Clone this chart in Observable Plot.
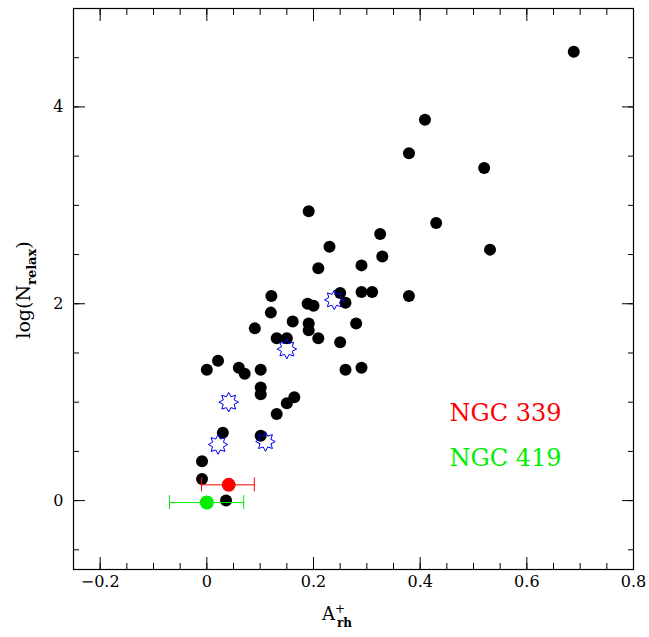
<!DOCTYPE html>
<html><head><meta charset="utf-8">
<script src="https://cdn.jsdelivr.net/npm/d3@7"></script>
<script src="https://cdn.jsdelivr.net/npm/@observablehq/plot@0.6"></script>
<style>body{margin:0;background:#fff}</style>
</head><body>
<div id="chart"></div>
<script>
// black clusters: A+rh and log(Nrelax)
const clusterA = [0.688,0.409,0.379,0.520,0.191,0.430,0.531,0.325,0.230,0.329,0.209,0.290,0.290,0.310,0.379,0.121,0.250,0.260,0.189,0.200,0.120,0.161,0.191,0.280,0.191,0.090,0.209,0.131,0.150,0.250,0.260,0.290,0.021,0.0,0.060,0.071,0.101,0.101,0.101,0.164,0.150,0.131,0.030,0.101,-0.009,-0.009,0.036];
const clusterN = [4.56,3.87,3.53,3.38,2.94,2.82,2.55,2.71,2.58,2.48,2.36,2.39,2.12,2.12,2.08,2.08,2.11,2.01,2.00,1.98,1.91,1.82,1.80,1.80,1.73,1.75,1.65,1.65,1.65,1.61,1.33,1.35,1.42,1.33,1.35,1.29,1.33,1.15,1.08,1.05,0.99,0.88,0.69,0.66,0.40,0.22,0.0];
// blue star markers
const starA = [0.239,0.150,0.041,0.021,0.110];
const starN = [2.04,1.54,1.00,0.57,0.60];
// the two named clusters
const ngcNames = ["NGC 339","NGC 419"];
const ngcColors = ["#ff0000","#00ee00"];
const ngcA = [0.041,0.0];
const ngcN = [0.16,-0.02];
const ngcLo = [-0.009,-0.069];
const ngcHi = [0.09,0.07];
const labelA = [0.455,0.455];
const labelN = [0.89,0.43];

const clusters = clusterA.map((a,i)=>({a, n: clusterN[i]}));
const stars = starA.map((a,i)=>({a, n: starN[i]}));
const ngc = ngcNames.map((name,i)=>({name, color: ngcColors[i], a: ngcA[i], n: ngcN[i], lo: ngcLo[i], hi: ngcHi[i], la: labelA[i], ln: labelN[i]}));

// 8-pointed open star
const star8 = {draw(ctx, size) {
  const R = Math.sqrt(size) * 0.85, r = R * 0.6;
  for (let k = 0; k < 16; k++) {
    const ang = k * Math.PI / 8 - Math.PI / 2, rad = k % 2 ? r : R;
    const x = rad * Math.cos(ang), y = rad * Math.sin(ang);
    k ? ctx.lineTo(x, y) : ctx.moveTo(x, y);
  }
  ctx.closePath();
}};

const xMajor = d3.range(-0.2, 0.81, 0.2).map(v => +v.toFixed(2));
const xMinor = d3.range(-0.25, 0.801, 0.05).map(v => +v.toFixed(2));
const yMajor = [0, 2, 4];
const yMinor = d3.range(-0.5, 5.01, 0.5);
const fmt = d => String(d).replace("-", "\u2212");

const svg = Plot.plot({
  width: 649, height: 637,
  marginLeft: 73, marginRight: 16, marginTop: 8, marginBottom: 68,
  style: {fontFamily: "DejaVu Serif", fontSize: "16px", color: "#000"},
  x: {domain: [-0.25, 0.8]},
  y: {domain: [-0.7, 5]},
  marks: [
    Plot.frame({stroke: "#000", strokeWidth: 1.2}),
    Plot.axisX({ticks: xMajor, tickSize: -12, tickPadding: 18, tickFormat: fmt, label: null, fontSize: 16}),
    Plot.axisX({ticks: xMinor, tickSize: -6, tickFormat: () => "", label: null}),
    Plot.axisX({anchor: "top", ticks: xMajor, tickSize: -12, tickFormat: () => "", label: null}),
    Plot.axisX({anchor: "top", ticks: xMinor, tickSize: -6, tickFormat: () => "", label: null}),
    Plot.axisY({ticks: yMajor, tickSize: -12, tickPadding: 22, tickFormat: fmt, label: null, fontSize: 16}),
    Plot.axisY({ticks: yMinor, tickSize: -6, tickFormat: () => "", label: null}),
    Plot.axisY({anchor: "right", ticks: yMajor, tickSize: -12, tickFormat: () => "", label: null}),
    Plot.axisY({anchor: "right", ticks: yMinor, tickSize: -6, tickFormat: () => "", label: null}),
    Plot.dot(clusters, {x: "a", y: "n", r: 6, fill: "#000"}),
    Plot.dot(stars, {x: "a", y: "n", symbol: star8, r: 6.5, stroke: "#0000ee", strokeWidth: 1, fill: "none"}),
    Plot.link(ngc, {x1: "lo", x2: "hi", y1: "n", y2: "n", stroke: "color"}),
    Plot.dot(ngc, {x: "a", y: "n", r: 7, fill: "color"}),
    Plot.text(ngc, {x: "la", y: "ln", text: "name", fill: "color", fontSize: 24, textAnchor: "start"})
  ]
});
// short error bar caps
const sx = svg.scale("x"), sy = svg.scale("y");
const g = d3.select(svg);
ngc.forEach(d => {
  [d.lo, d.hi].forEach(v => g.append("line").attr("x1", sx.apply(v)).attr("x2", sx.apply(v))
    .attr("y1", sy.apply(d.n) - 7).attr("y2", sy.apply(d.n) + 7).attr("stroke", d.color));
});
// axis titles with subscripts
const xt = g.append("text").attr("x", 337).attr("y", 620).attr("text-anchor", "middle")
  .attr("font-family", "DejaVu Serif").attr("font-size", 18);
xt.append("tspan").text("A");
xt.append("tspan").attr("dy", -7).attr("font-size", 12).text("+");
xt.append("tspan").attr("dx", -8).attr("dy", 14).attr("font-size", 12).attr("font-weight", "bold").text("rh");
const yt = g.append("text").attr("transform", "translate(30,290) rotate(-90)").attr("text-anchor", "middle")
  .attr("font-family", "DejaVu Serif").attr("font-size", 19);
yt.append("tspan").text("log(N");
yt.append("tspan").attr("dy", 6).attr("font-size", 13).attr("font-weight", "bold").text("relax");
yt.append("tspan").attr("dy", -6).text(")");
document.getElementById("chart").append(svg);
</script>
</body></html>
